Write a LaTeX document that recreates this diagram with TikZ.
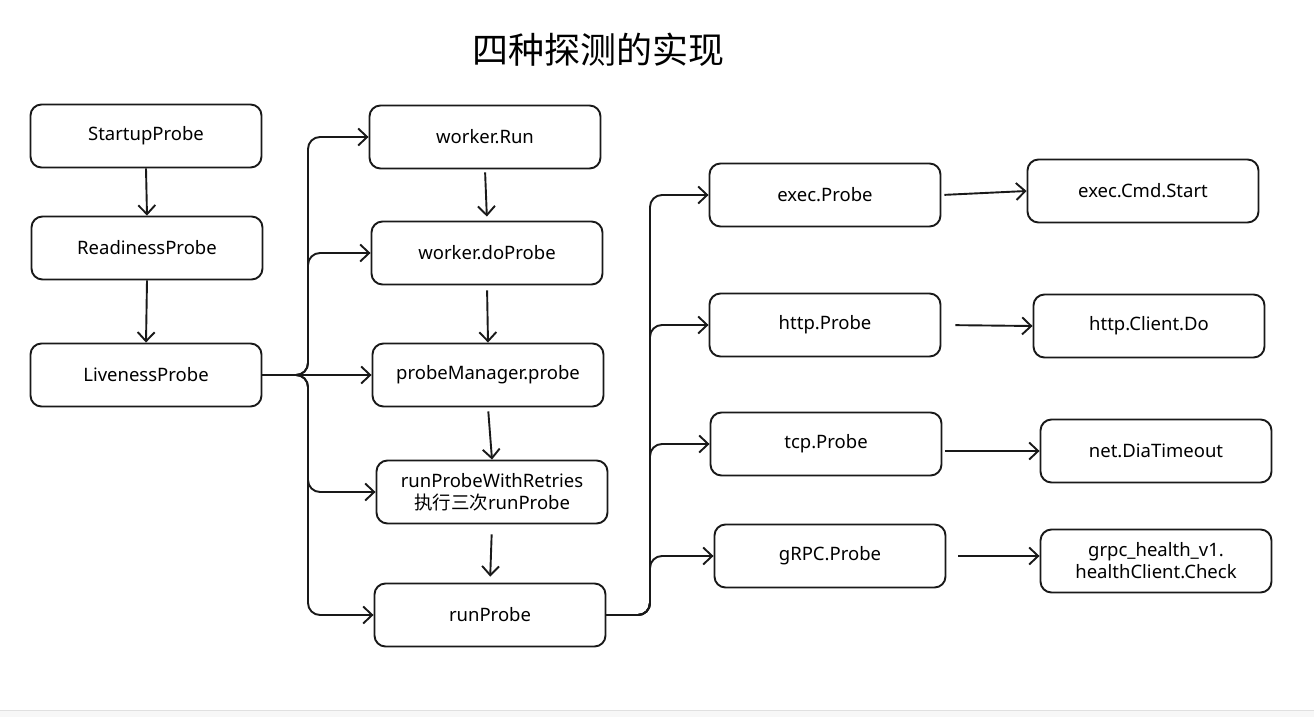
\documentclass[tikz,border=0pt]{standalone}
\usepackage{fontspec}
\setmainfont{Noto Sans}
\newfontfamily\cjk{Noto Sans CJK SC}
\usetikzlibrary{arrows.meta}
\begin{document}
\begin{tikzpicture}[x=1pt,y=-1pt,
  box/.style={draw=black!90, line width=1.9pt, rounded corners=11pt, minimum width=231pt, minimum height=63pt, font=\fontsize{18.5}{22}\selectfont, align=center, inner sep=2pt},
  arr/.style={draw=black!90, line width=1.9pt, -{Straight Barb[length=9pt,width=17pt,line width=1.9pt]}},
  branch/.style={arr, rounded corners=12pt}
]
\useasboundingbox (0,0) rectangle (1314,717);
\fill[black!3] (0,710) rectangle (1314,717);
\draw[black!12, line width=0.8pt] (0,710) -- (1314,710);

\node[font=\cjk\fontsize{36}{40}\selectfont] (title) at (598,50) {四种探测的实现};

% left column
\node[box] (startup) at (146,136) {StartupProbe};
\node[box] (ready) at (147,248) {ReadinessProbe};
\node[box] (live) at (146,375) {LivenessProbe};

% middle column
\node[box] (wrun) at (485,137) {worker.Run};
\node[box] (wdo) at (487,253) {worker.doProbe};
\node[box] (pm) at (488,375) {probeManager.probe};
\node[box] (retry) at (492,492) {runProbeWithRetries\\{\cjk 执行三次}runProbe};
\node[box] (rp) at (490,615) {runProbe};

% probes
\node[box] (execp) at (825,195) {exec.Probe};
\node[box] (httpp) at (825,325) {http.Probe};
\node[box] (tcpp) at (826,444) {tcp.Probe};
\node[box] (grpcp) at (830,556) {gRPC.Probe};

% right column
\node[box] (cmd) at (1143,191) {exec.Cmd.Start};
\node[box] (client) at (1149,326) {http.Client.Do};
\node[box] (dial) at (1156,451) {net.DiaTimeout};
\node[box] (check) at (1156,561) {grpc\_health\_v1.\\healthClient.Check};

% vertical arrows
\draw[arr] (startup.south) -- (ready.north);
\draw[arr] (ready.south) -- (live.north);
\draw[arr, shorten <=3pt, shorten >=4pt] (wrun.south) -- (wdo.north);
\draw[arr, shorten <=5pt] (wdo.south) -- (pm.north);
\draw[arr, shorten <=4pt] (pm.south) -- (retry.north);
\draw[arr, shorten <=10pt, shorten >=6pt] (retry.south) -- (rp.north);

% branches from LivenessProbe
\coordinate (b1) at (308,375);
\draw[branch] (live.east) -- (b1) |- (wrun.west);
\draw[branch] (live.east) -- (b1) |- (wdo.west);
\draw[arr] (live.east) -- (pm.west);
\draw[branch] (live.east) -- (b1) |- (retry.west);
\draw[branch] (live.east) -- (b1) |- (rp.west);

% branches from runProbe
\coordinate (b2) at (650,615);
\draw[branch] (rp.east) -- (b2) |- (execp.west);
\draw[branch] (rp.east) -- (b2) |- (httpp.west);
\draw[branch] (rp.east) -- (b2) |- (tcpp.west);
\draw[branch] (rp.east) -- (b2) |- (grpcp.west);

% horizontal arrows
\draw[arr, shorten <=3pt] (execp.east) -- (cmd.west);
\draw[arr, shorten <=14pt] (httpp.east) -- (client.west);
\draw[arr, shorten <=3pt] (tcpp.east |- dial.west) -- (dial.west);
\draw[arr, shorten <=12pt] (grpcp.east) -- (grpcp.east -| check.west);
\end{tikzpicture}
\end{document}
